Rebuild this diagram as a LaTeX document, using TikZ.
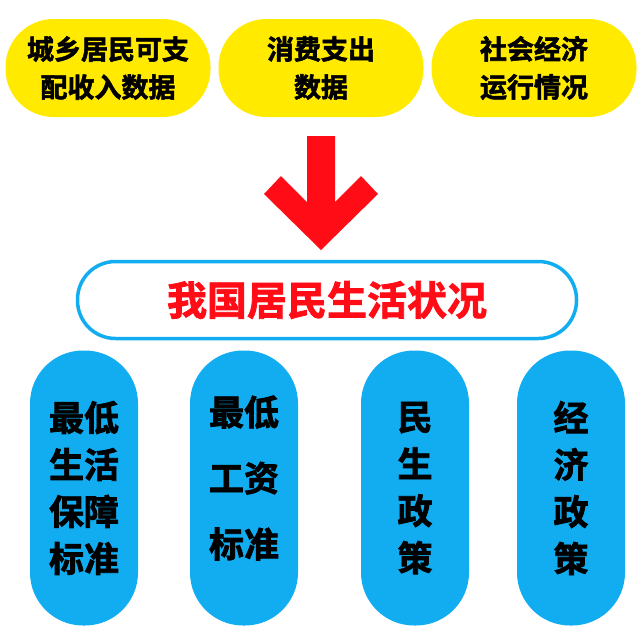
\documentclass[tikz,border=0pt]{standalone}
\usepackage{fontspec}
\newfontfamily\cjk[BoldFont={Noto Sans CJK SC Bold},BoldFeatures={FakeBold=2}]{Noto Sans CJK SC}
\definecolor{pillyellow}{RGB}{255,234,0}
\definecolor{pillblue}{RGB}{18,172,240}
\definecolor{arrowred}{RGB}{255,12,22}
\tikzset{
  source/.style={fill=pillyellow,rounded corners=48pt,minimum width=205pt,minimum height=98pt,
    align=center,font=\cjk\bfseries\fontsize{27}{38}\selectfont},
  measure/.style={fill=pillblue,rounded corners=53pt,minimum width=108pt,minimum height=275pt,
    align=center,font=\cjk\bfseries\fontsize{35}{47}\selectfont}
}
\begin{document}
\begin{tikzpicture}[x=1pt,y=-1pt]
        \useasboundingbox(0,0)rectangle(641,641);
        \node[source](income)at(108,68){城乡居民可支\\配收入数据};
        \node[source](spend)at(321,68){消费支出\\数据};
        \node[source](economy)at(534,68){社会经济\\运行情况};
        \fill[arrowred](307,136)--(335,136)--(335,202)--(361,176)--(378,194)--(321,250)--(264,194)--(281,176)--(307,202)--cycle;
        \node[draw=pillblue,line width=3.5pt,fill=white,rounded corners=38pt,minimum width=499pt,minimum height=77pt,
          text=arrowred,font=\cjk\bfseries\fontsize{40}{44}\selectfont](life)at(327,300){我国居民生活状况};
        \node[measure](minliving)at(84,488){最低\\生活\\保障\\标准};
        \node[measure](minwage)at(244,488){};
        \node[align=center,font=\cjk\bfseries\fontsize{35}{66}\selectfont](minwagetext)at(244,478){最低\\工资\\标准};
        \node[measure](livelihood)at(415,488){民\\生\\政\\策};
        \node[measure](econpolicy)at(571,488){经\\济\\政\\策};
    \end{tikzpicture}
\end{document}
